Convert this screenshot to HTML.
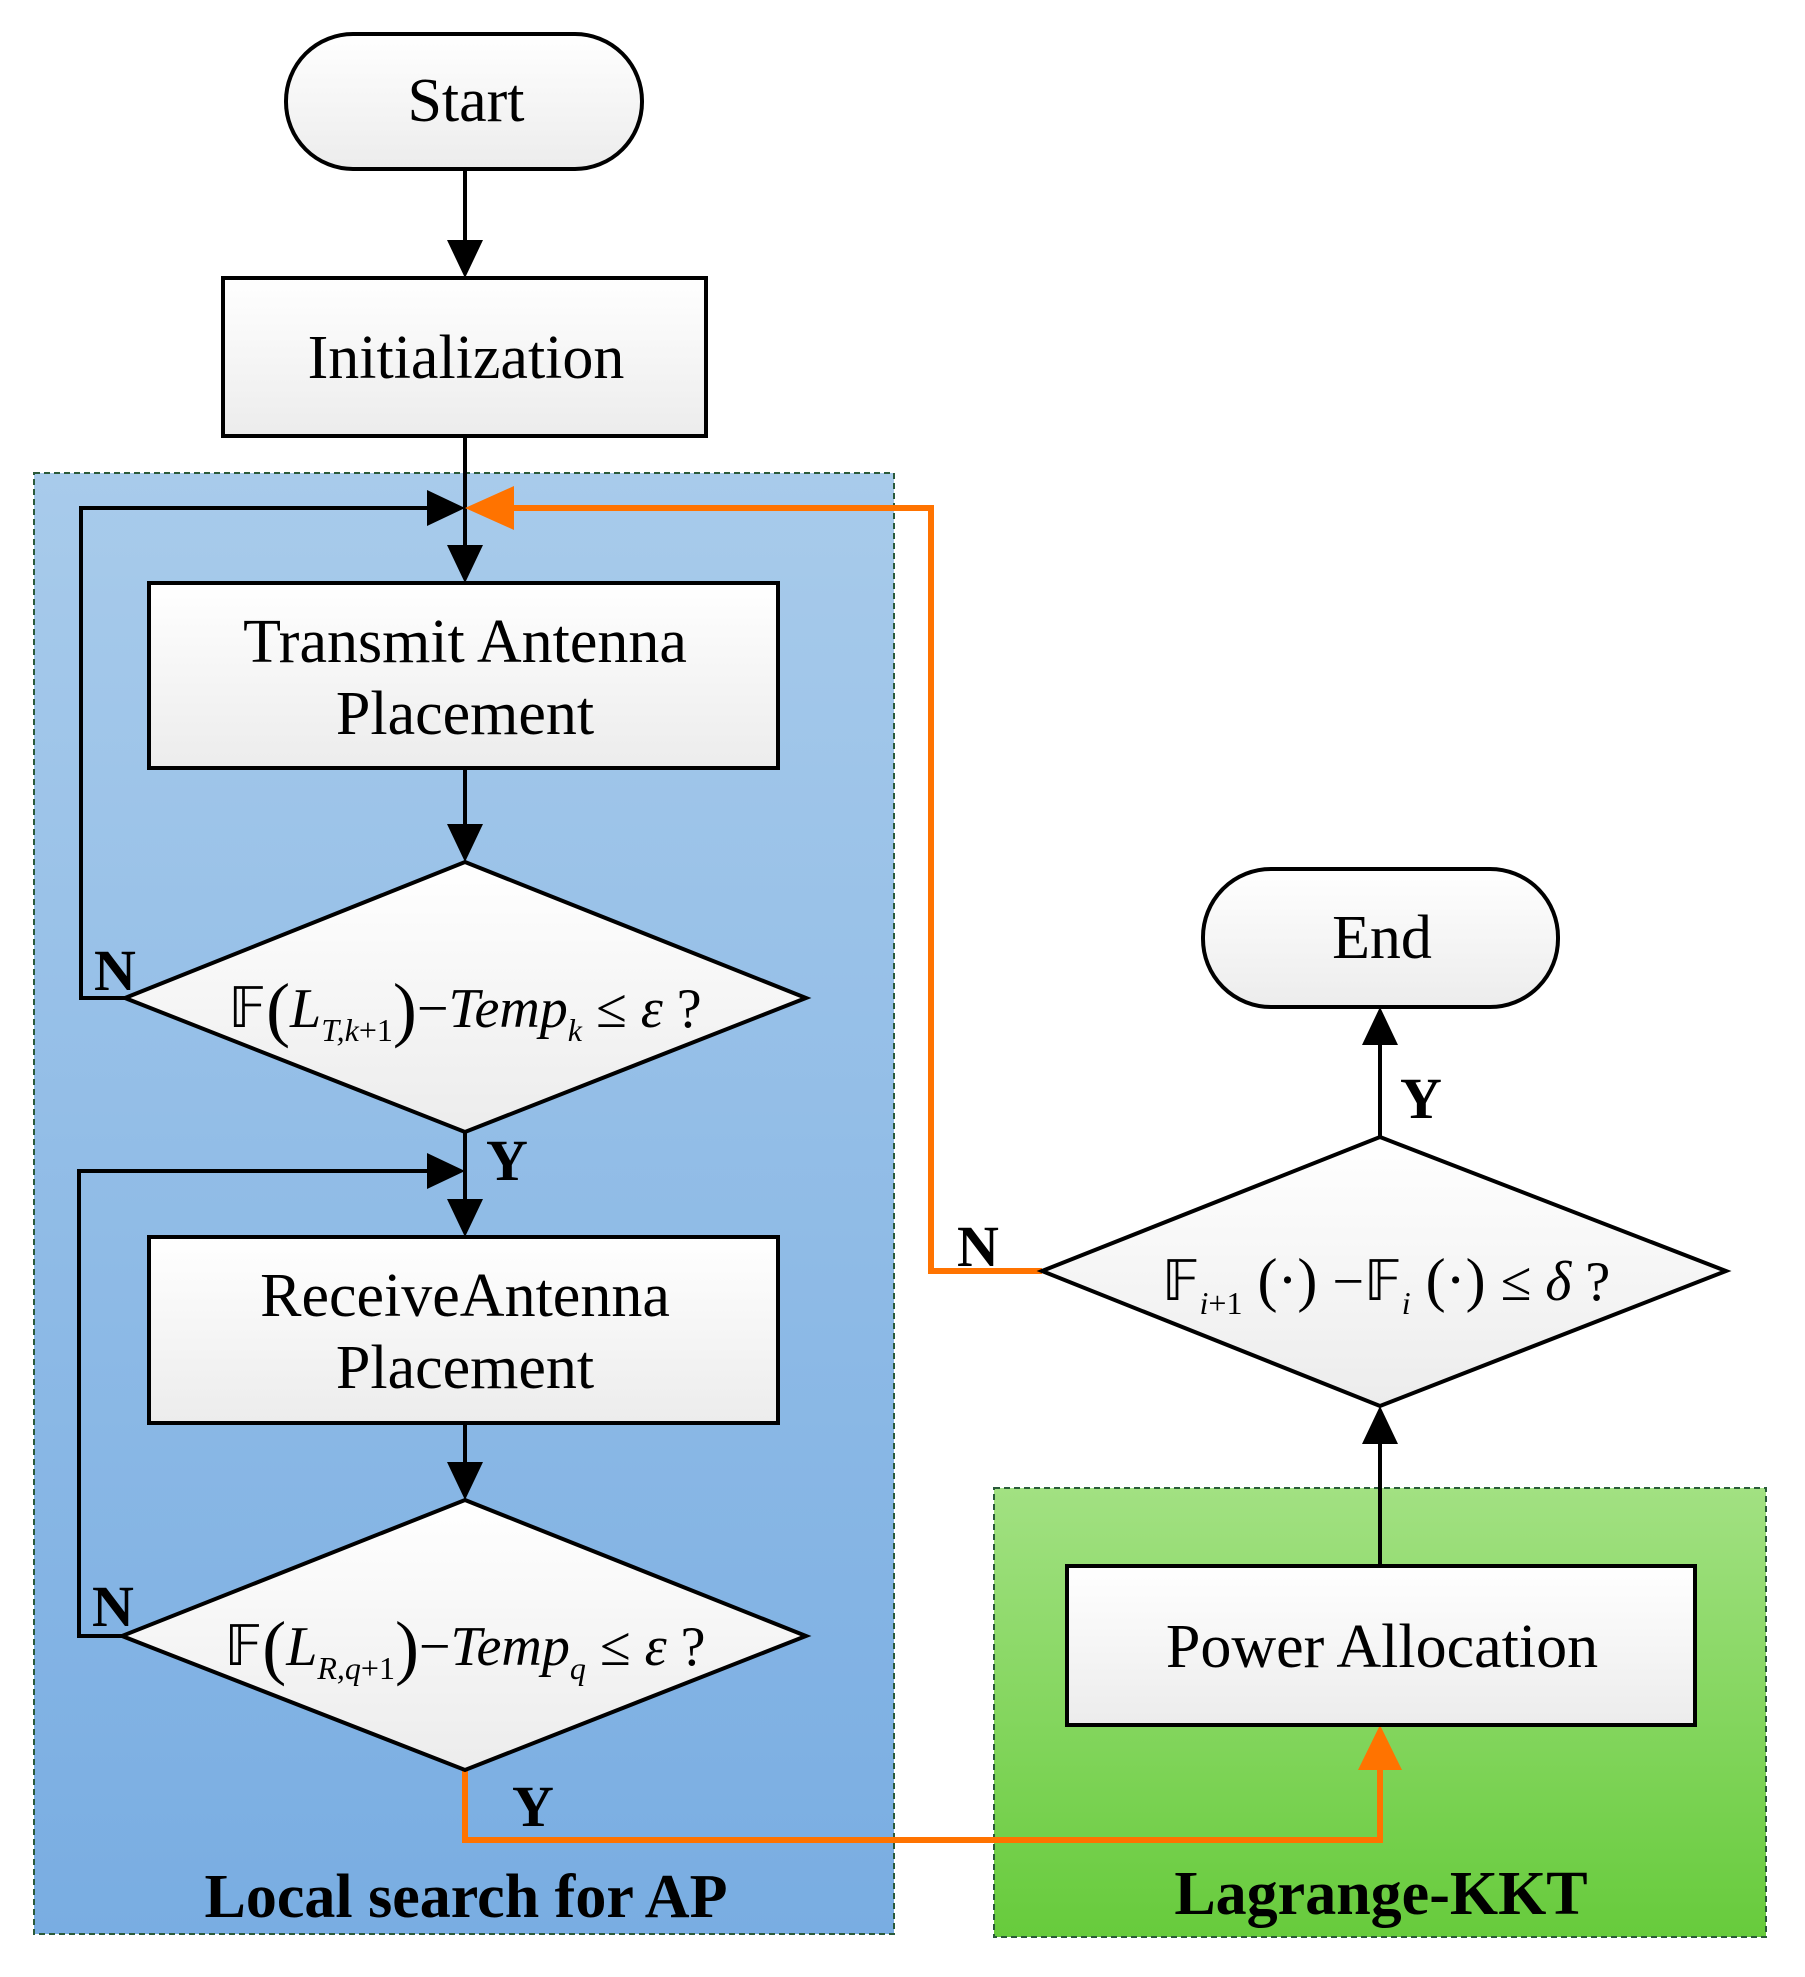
<!DOCTYPE html>
<html><head><meta charset="utf-8"><style>
html,body{margin:0;padding:0;background:#fff;}
svg{display:block;}
text{font-family:"Liberation Serif",serif;}
</style></head><body>
<svg width="1805" height="1977" viewBox="0 0 1805 1977" xmlns="http://www.w3.org/2000/svg">
<defs>
<linearGradient id="bl" x1="0" y1="0" x2="0" y2="1"><stop offset="0" stop-color="#a8cbeb"/><stop offset="1" stop-color="#79ade2"/></linearGradient>
<linearGradient id="gr" x1="0" y1="0" x2="0" y2="1"><stop offset="0" stop-color="#a2e182"/><stop offset="1" stop-color="#67cb3c"/></linearGradient>
<linearGradient id="bx" x1="0" y1="0" x2="0" y2="1"><stop offset="0" stop-color="#ffffff"/><stop offset="1" stop-color="#ececec"/></linearGradient>
</defs>
<rect x="34" y="473" width="860" height="1461" fill="url(#bl)" stroke="#2a5a3a" stroke-width="2" stroke-dasharray="6,4"/>
<rect x="994" y="1488" width="772" height="449" fill="url(#gr)" stroke="#2a5a3a" stroke-width="2" stroke-dasharray="6,4"/>

<g stroke="#000" stroke-width="4" fill="none">
<line x1="465" y1="169" x2="465" y2="250"/>
<line x1="465" y1="436" x2="465" y2="555"/>
<line x1="465" y1="768" x2="465" y2="835"/>
<line x1="465" y1="1132" x2="465" y2="1210"/>
<line x1="465" y1="1423" x2="465" y2="1473"/>
<polyline points="125,998 81,998 81,508 435,508"/>
<polyline points="122,1636 79,1636 79,1171 435,1171"/>
<line x1="1380" y1="1137" x2="1380" y2="1040"/>
<line x1="1380" y1="1566" x2="1380" y2="1440"/>
</g>
<g fill="#000">
<path d="M447,240 L483,240 L465,278 z"/>
<path d="M447,545 L483,545 L465,583 z"/>
<path d="M447,824 L483,824 L465,862 z"/>
<path d="M447,1199 L483,1199 L465,1237 z"/>
<path d="M447,1462 L483,1462 L465,1500 z"/>
<path d="M427,490 L465,508 L427,526 z"/>
<path d="M427,1153 L465,1171 L427,1189 z"/>
<path d="M1362,1045 L1398,1045 L1380,1007 z"/>
<path d="M1362,1444 L1398,1444 L1380,1406 z"/>
</g>
<g stroke="#ff7300" stroke-width="6" fill="none">
<polyline points="1042,1271 931,1271 931,508 500,508"/>
<polyline points="465,1770 465,1840 1380,1840 1380,1760"/>
</g>
<path d="M514,486 L465,508 L514,530 z" fill="#ff7300"/>
<path d="M1358,1770 L1380,1725 L1402,1770 z" fill="#ff7300"/>

<rect x="286" y="34" width="356" height="135" rx="67" fill="url(#bx)" stroke="#000" stroke-width="4"/>
<text x="466" y="121" font-size="62" text-anchor="middle">Start</text>
<rect x="223" y="278" width="483" height="158" fill="url(#bx)" stroke="#000" stroke-width="4"/>
<text x="466" y="378" font-size="62" text-anchor="middle">Initialization</text>
<rect x="149" y="583" width="629" height="185" fill="url(#bx)" stroke="#000" stroke-width="4"/>
<text x="465" y="662" font-size="62" text-anchor="middle">Transmit Antenna</text>
<text x="465" y="734" font-size="62" text-anchor="middle">Placement</text>
<polygon points="465,862 806,998 465,1132 125,998" fill="url(#bx)" stroke="#000" stroke-width="4"/>
<text x="465" y="1027" font-size="56" text-anchor="middle">𝔽<tspan font-size="72" dy="6">(</tspan><tspan dy="-6" font-style="italic">L</tspan><tspan font-size="32" dy="14" font-style="italic">T,k</tspan><tspan font-size="32">+1</tspan><tspan font-size="72" dy="-8">)</tspan><tspan dy="-6">−</tspan><tspan font-style="italic">Temp</tspan><tspan font-size="32" dy="14" font-style="italic">k</tspan><tspan dy="-14"> ≤ </tspan><tspan font-style="italic">ε</tspan> ?</text>
<rect x="149" y="1237" width="629" height="186" fill="url(#bx)" stroke="#000" stroke-width="4"/>
<text x="465" y="1316" font-size="62" text-anchor="middle">ReceiveAntenna</text>
<text x="465" y="1388" font-size="62" text-anchor="middle">Placement</text>
<polygon points="465,1500 806,1636 465,1770 122,1636" fill="url(#bx)" stroke="#000" stroke-width="4"/>
<text x="465" y="1665" font-size="56" text-anchor="middle">𝔽<tspan font-size="72" dy="6">(</tspan><tspan dy="-6" font-style="italic">L</tspan><tspan font-size="32" dy="14" font-style="italic">R,q</tspan><tspan font-size="32">+1</tspan><tspan font-size="72" dy="-8">)</tspan><tspan dy="-6">−</tspan><tspan font-style="italic">Temp</tspan><tspan font-size="32" dy="14" font-style="italic">q</tspan><tspan dy="-14"> ≤ </tspan><tspan font-style="italic">ε</tspan> ?</text>

<rect x="1203" y="869" width="355" height="138" rx="68" fill="url(#bx)" stroke="#000" stroke-width="4"/>
<text x="1382" y="958" font-size="62" text-anchor="middle">End</text>
<polygon points="1380,1137 1726,1271 1380,1406 1042,1271" fill="url(#bx)" stroke="#000" stroke-width="4"/>
<text x="1386" y="1300" font-size="56" text-anchor="middle">𝔽<tspan font-size="32" dy="14" font-style="italic">i</tspan><tspan font-size="32">+1</tspan><tspan dy="-14" font-size="60"> (·) </tspan><tspan>−𝔽</tspan><tspan font-size="32" dy="14" font-style="italic">i</tspan><tspan dy="-14" font-size="60"> (·) </tspan><tspan>≤ </tspan><tspan font-style="italic">δ</tspan> ?</text>
<rect x="1067" y="1566" width="628" height="159" fill="url(#bx)" stroke="#000" stroke-width="4"/>
<text x="1382" y="1667" font-size="62" text-anchor="middle">Power Allocation</text>

<g font-weight="bold" font-size="58">
<text x="94" y="990">N</text>
<text x="486" y="1180">Y</text>
<text x="92" y="1626">N</text>
<text x="512" y="1826">Y</text>
<text x="957" y="1266">N</text>
<text x="1400" y="1118">Y</text>
</g>
<text x="466" y="1917" font-size="62" font-weight="bold" text-anchor="middle">Local search for AP</text>
<text x="1381" y="1914" font-size="62" font-weight="bold" text-anchor="middle">Lagrange-KKT</text>
</svg>
</body></html>
